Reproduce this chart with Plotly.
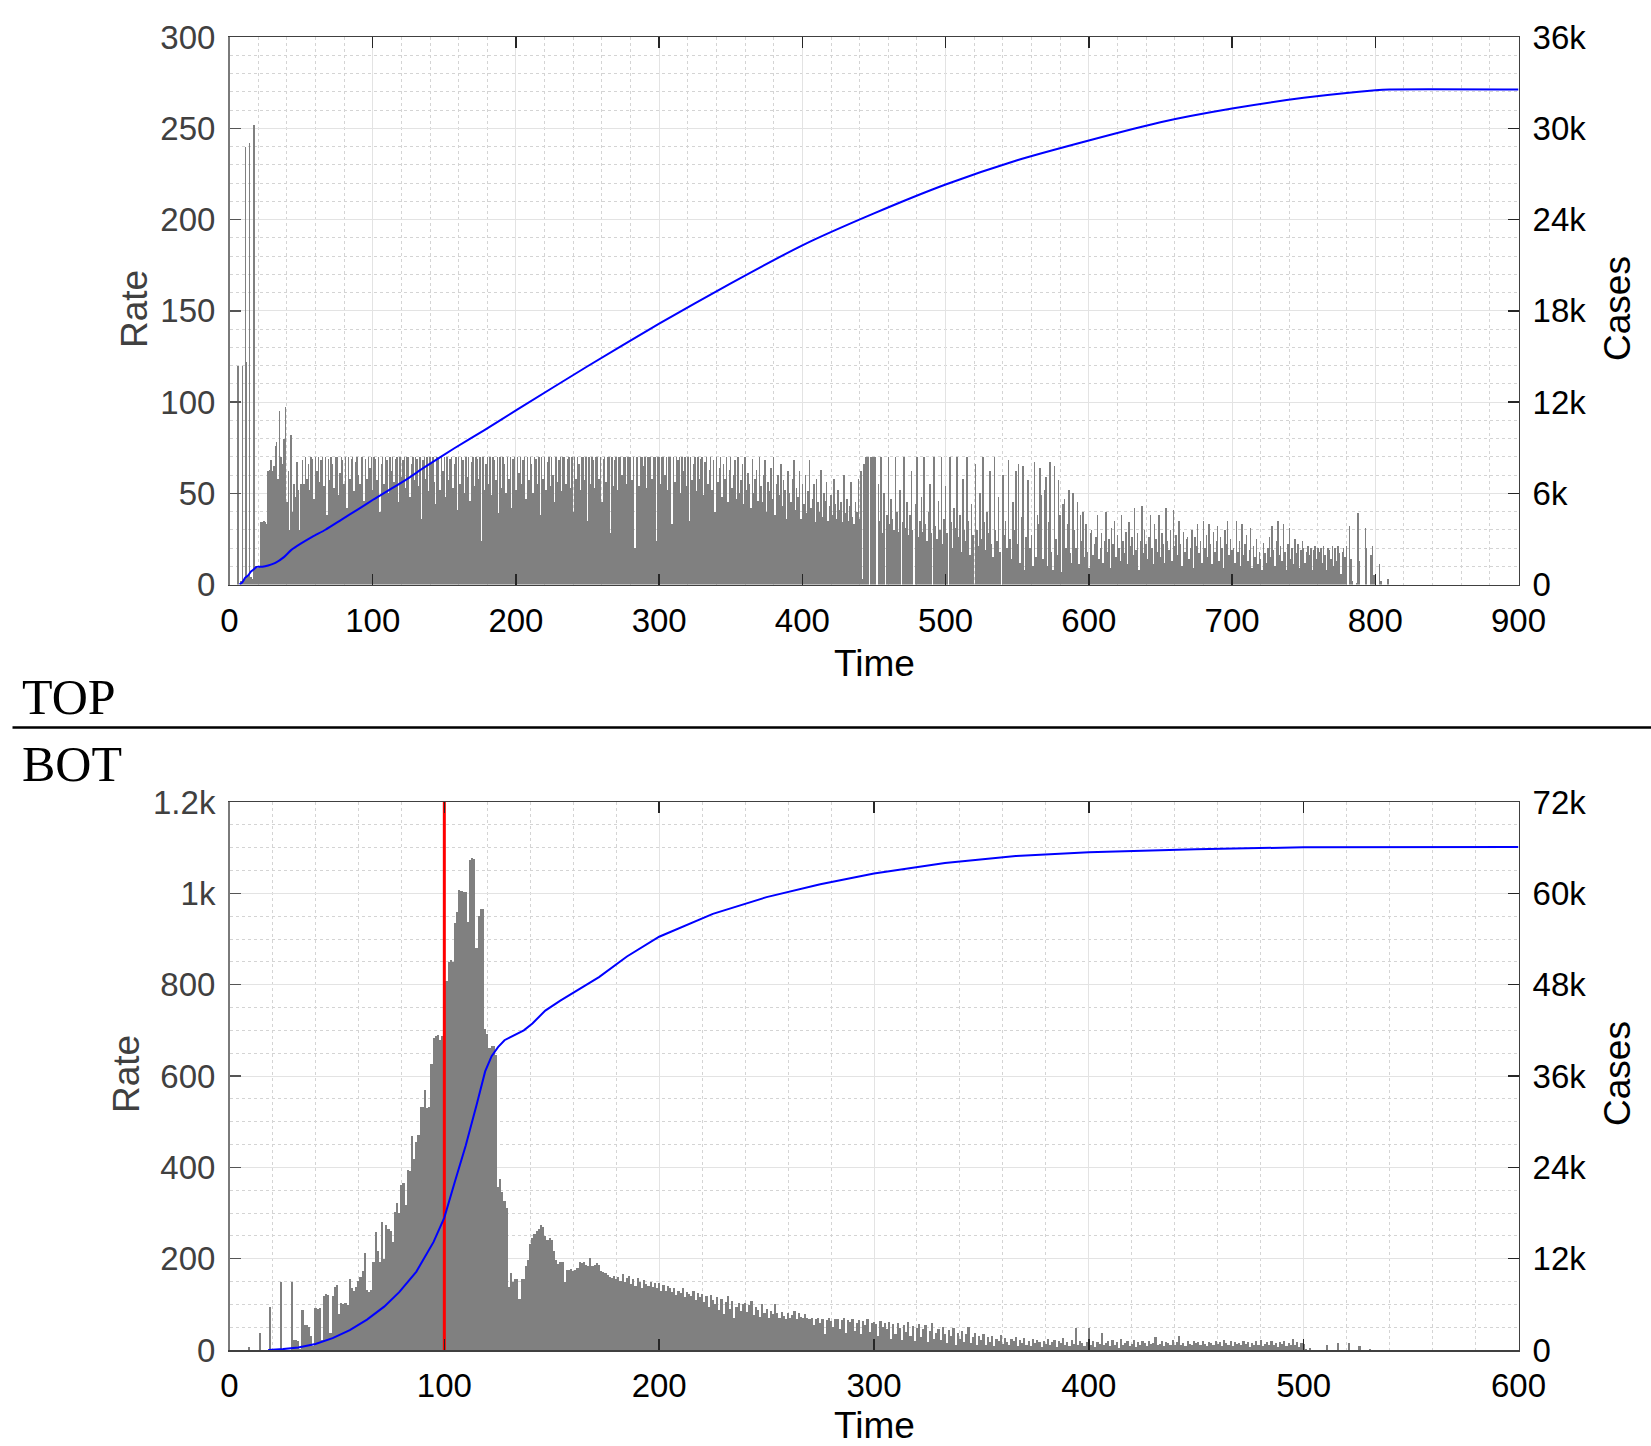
import plotly.graph_objects as go

# ---------------- DATA ----------------
# TOP panel: daily rate (bars), days 0..812
top_rate_early = [0, 0, 0, 0, 0, 0, 120, 0, 2, 120,
                  3, 240, 122, 5, 242, 4, 3, 252, 10, 10,
                  9, 10, 34, 34, 35, 34, 33, 62, 63, 68,
                  62, 65, 76, 78, 58, 95, 70, 66, 80, 97,
                  45, 62, 30, 82, 40, 55, 48, 67, 52, 30,
                  55]
top_rate_plateau = [
    68, 55, 70, 58, 66, 52, 70, 69, 47, 70, 62, 70, 56, 68, 70, 54, 70, 38, 69, 57,
    70, 66, 53, 70, 70, 49, 61, 70, 68, 55, 70, 42, 70, 58, 69, 70, 51, 67, 70, 60,
    55, 70, 70, 46, 69, 58, 70, 64, 70, 52, 70, 69, 57, 70, 40, 66, 70, 55, 70, 68,
    50, 70, 62, 70, 56, 69, 70, 45, 70, 59, 68, 70, 53, 70, 70, 48, 66, 70, 57, 70,
    69, 54, 70, 36, 68, 70, 58, 70, 51, 70, 67, 70, 56, 44, 70, 69, 52, 70, 62, 70,
    48, 70, 57, 69, 70, 53, 66, 70, 41, 70, 55, 70, 68, 50, 70, 59, 70, 46, 67, 70,
    54, 70, 69, 58, 70, 24, 70, 52, 66, 70, 55, 70, 49, 70, 68, 57, 70, 39, 70, 53,
    70, 66, 50, 70, 58, 70, 42, 69, 70, 52, 70, 61, 70, 55, 68, 70, 47, 70, 57, 70,
    66, 50, 70, 69, 55, 70, 38, 70, 58, 70, 52, 67, 70, 54, 70, 60, 45, 70, 56, 68,
    70, 51, 70, 70, 55, 69, 70, 53, 70, 40, 70, 58, 70, 66, 52, 70, 70, 57, 70, 35,
    70, 55, 70, 68, 53, 70, 70, 58, 70, 45, 69, 70, 56, 70, 70, 28, 70, 54, 68, 70,
    52, 70, 70, 60, 70, 70, 55, 70, 70, 70, 57, 70, 20, 70, 70, 54, 70, 70, 65, 70,
    53, 70, 70, 70, 58, 70, 70, 24, 70, 70, 55, 70, 70, 60, 70, 52, 70, 70, 33, 70,
    56, 70, 68, 70, 50, 70, 62, 70, 54, 70, 35, 70, 57, 66, 70, 51, 70, 58, 69, 70,
    49, 67, 70, 55, 63, 70, 52, 68, 40, 70, 56, 64, 70, 48, 66, 58, 70, 45, 63, 70,
    53, 60, 68, 47, 70, 50, 57, 66, 44, 70, 52, 61, 55, 42, 69, 50, 58, 63, 46, 70,
    54, 45, 60, 68, 40, 56, 51, 64, 47, 70, 38, 55, 60, 49, 66, 43, 57, 52, 36, 62,
    50, 45, 58, 68, 41, 53, 48, 62, 36, 55,
    44, 60, 39, 51, 68, 42, 47, 55, 34, 58, 45, 40, 63, 37, 50, 46, 56, 35, 43, 49,
    38, 58, 44, 36, 52, 41, 45, 34, 60, 39, 47, 35, 43, 56, 37, 33, 45, 40, 58, 36,
    62, 3, 66, 70, 70, 70, 0, 70, 70, 70, 70, 0, 55]
top_rate_decline = [
    35, 70, 28, 50, 0, 38, 70, 33, 47, 36, 30, 70, 40, 29, 52, 0, 34, 70, 31, 45,
    27, 38, 62, 30, 0, 44, 70, 26, 35, 48, 29, 70, 33, 24, 40, 55, 28, 0, 70, 32,
    25, 46, 30, 70, 22, 36, 54, 28, 0, 70, 34, 20, 42, 31, 70, 26, 38, 18, 58, 30,
    24, 70, 35, 16, 44, 27, 0, 66, 30, 21, 50, 25, 70, 34, 19, 40, 28, 62, 22, 15,
    70, 30, 24, 48, 18, 0, 60, 27, 35, 20, 68, 25, 14, 45, 30, 62, 22,
    66, 12, 37, 65, 8, 26, 57, 57, 20, 27, 10, 67, 15, 38, 33, 64, 49, 14, 52, 59,
    10, 34, 67, 18, 8, 65, 25, 16, 57, 38, 7, 44, 47, 20, 33, 52, 17, 12, 50, 30,
    20, 45, 11, 38, 24, 40, 15, 33, 18, 9, 28]
top_rate_tail = [
    30, 16, 22, 26, 38, 14, 20, 28, 12, 24, 40, 18, 25, 9, 31, 22, 35, 15, 27, 20,
    13, 38, 24, 17, 29, 11, 34, 21, 26, 16, 42, 19, 28, 8, 24, 43, 17, 30, 22, 14,
    26, 38, 20, 11, 33, 25, 18, 38, 15, 28, 22, 12, 42, 24, 19, 30, 13, 41, 21, 27,
    16, 35, 22, 10, 29, 18, 25, 26, 14, 20, 30, 9, 26, 21, 33, 17, 24, 12, 35, 20,
    27, 15, 33, 22, 11, 29, 18, 24, 32, 13, 26, 20, 9, 30, 22, 35, 16, 25, 19,
    20, 12, 35, 18, 24, 10, 33, 16, 22, 27, 13, 19, 31, 9, 21, 15, 25, 11, 18, 14,
    8, 23, 17, 12, 20, 26, 15, 32, 19, 10, 24, 35, 16, 21, 13, 33, 18, 8, 22, 31,
    14, 20, 11, 25, 17, 22, 9, 19, 24, 20, 12, 18, 21, 16, 20, 8, 19, 21, 14, 20,
    18, 20, 12, 21, 16, 8, 20, 19, 14, 21, 10, 20, 13, 21, 17, 6, 18, 20, 15, 21,
    0, 32, 14, 2, 0, 0, 1, 39, 13, 0, 0, 0, 31, 20, 0, 0, 16, 21, 5, 0,
    0, 0, 11, 2, 0, 0, 0, 0, 3, 0, 0, 0]
top_rate = top_rate_early + top_rate_plateau + top_rate_decline + top_rate_tail
top_days = list(range(len(top_rate)))

# TOP panel: cumulative cases (line, right axis)
top_line_days = [7, 9, 11, 13, 15, 17, 19, 23, 27, 32, 38, 43, 50, 58, 67, 78, 90, 101,
                 113, 125, 136, 157, 178, 200, 250, 300, 350, 400, 450, 500, 550, 600,
                 650, 700, 750, 800, 810, 900]
top_line_cases = [0, 150, 450, 600, 850, 1000, 1160, 1170, 1250, 1420, 1800, 2260, 2700,
                  3150, 3600, 4250, 4960, 5620, 6300, 7000, 7700, 8960, 10150, 11450,
                  14350, 17150, 19800, 22300, 24400, 26300, 27900, 29200, 30400, 31300,
                  32000, 32500, 32550, 32550]

# BOTTOM panel: daily rate (bars), days 0..534
bot_rate_rise = [
    0, 0, 0, 0, 0, 0, 0, 0, 0, 7,
    0, 0, 0, 0, 38, 0, 0, 0, 0, 95,
    0, 0, 0, 0, 150, 0, 0, 0, 0, 150,
    22, 22, 20, 2, 87, 54, 54, 50, 30, 8,
    91, 90, 91, 22, 119, 123, 120, 38, 119, 139,
    143, 79, 103, 100, 103, 98, 156, 135, 130, 138,
    152, 160, 172, 212, 131, 128, 131, 192, 259, 216,
    192, 281, 200, 273, 265, 261, 237, 302, 322, 300,
    362, 366, 318, 395, 392, 468, 419, 456, 470, 533,
    533, 569, 529, 533, 626, 683, 687, 690, 679, 687,
    687, 808, 849, 853, 850, 934, 960, 1007, 1005, 1003,
    1003, 938, 1072, 1078, 1076, 881, 950, 966, 966, 703,
    691, 662, 666, 666, 646, 358, 375, 346, 326, 310]
bot_rate_second = [
    139, 168, 148, 155, 155, 111, 155, 155, 184, 196,
    233, 245, 253, 261, 265, 273, 270, 249, 241, 245,
    241, 216, 196, 188, 192, 192, 148, 176, 176, 178,
    174, 176, 180, 192, 190, 192, 186, 184, 202, 184,
    187, 190, 186, 173, 170, 168, 165, 160, 158, 162,
    155, 160, 152, 167, 150, 158, 162, 145, 155, 140,
    158, 150, 136, 154, 145, 140, 150, 138, 147, 135,
    147, 130, 142, 129, 140, 136, 128, 135, 120, 130,
    125, 136, 115, 128, 122, 118, 129, 110, 124, 116,
    122, 105, 118, 95, 120, 110, 100, 116, 88, 112,
    78, 105, 118, 90, 108, 71, 95, 104, 86, 100,
    104, 84, 98, 107, 76, 95, 88, 72, 100, 82,
    90, 71, 85, 78, 100, 80, 70, 84, 75, 68,
    82, 71, 76, 85, 67, 80, 72, 69, 78, 70,
    67, 71, 55, 68, 70, 60, 67, 35, 66, 70,
    64, 50, 67, 68, 45, 66, 70, 38, 65, 62,
    67, 42, 60, 66, 34, 63, 55, 67, 40, 60]
bot_rate_tail = [
    62, 58, 30, 64, 50, 60, 45, 62, 25, 57,
    35, 60, 48, 22, 55, 40, 62, 30, 52, 20,
    48, 58, 28, 45, 55, 18, 42, 60, 25, 38,
    47, 22, 50, 35, 15, 44, 30, 48, 12, 38,
    25, 42, 18, 34, 50, 15, 28, 38, 10, 30,
    22, 35, 12, 28, 18, 30, 8, 25, 20, 32,
    14, 26, 18, 10, 24, 20, 28, 9, 22, 16,
    26, 12, 20, 8, 24, 15, 22, 18, 6, 20,
    14, 24, 10, 18, 22, 7, 20, 16, 26, 12,
    18, 9, 22, 14, 49, 10, 20, 15, 8, 18,
    49, 12, 20, 6, 18, 14, 38, 10, 16, 20,
    8, 22, 12, 18, 5, 24, 10, 16, 20, 9,
    14, 22, 6, 18, 12, 20, 15, 8, 19, 14,
    16, 28, 10, 14, 20, 8, 18, 15, 12, 22,
    10, 18, 30, 12, 16, 8, 20, 14, 10, 19,
    15, 18, 11, 20, 14, 9, 18, 16, 12, 20,
    14, 18, 9, 22, 15, 12, 20, 8, 18, 14,
    16, 10, 20, 14, 18, 6, 16, 12, 20, 10,
    22, 8, 14, 18, 12, 20, 10, 16, 6, 18,
    14, 20, 8, 16, 12, 24, 10, 18, 6, 16,
    14, 2, 0, 5, 0, 0, 0, 1, 0, 0,
    0, 10, 0, 0, 0, 0, 16, 0, 0, 0,
    0, 16, 0, 0, 0, 0, 8, 0, 0, 0,
    0, 2, 0, 0, 0]
bot_rate = bot_rate_rise + bot_rate_second + bot_rate_tail
bot_days = list(range(len(bot_rate)))

bot_line_days = [18, 25, 32, 40, 48, 56, 64, 72, 79, 87, 95, 100, 105, 110, 115, 119,
                 122, 125, 128, 132, 137, 141, 147, 154, 160, 172, 185, 200, 225, 250,
                 275, 300, 333, 366, 400, 450, 500, 600]
bot_line_cases = [0, 120, 340, 800, 1560, 2600, 4000, 5700, 7600, 10300, 14200, 17400,
                  22200, 26900, 32200, 36600, 38600, 39800, 40700, 41300, 42000, 42900,
                  44600, 45900, 46900, 49000, 51700, 54300, 57300, 59500, 61200, 62600,
                  64000, 64900, 65400, 65800, 66050, 66100]

marker_day = 100

top_x_ticks = [0, 100, 200, 300, 400, 500, 600, 700, 800, 900]
top_rate_ticks = [0, 50, 100, 150, 200, 250, 300]
top_case_ticks = [0, 6000, 12000, 18000, 24000, 30000, 36000]
top_case_labels = ["0", "6k", "12k", "18k", "24k", "30k", "36k"]
bot_x_ticks = [0, 100, 200, 300, 400, 500, 600]
bot_rate_ticks = [0, 200, 400, 600, 800, 1000, 1200]
bot_rate_labels = ["0", "200", "400", "600", "800", "1k", "1.2k"]
bot_case_ticks = [0, 12000, 24000, 36000, 48000, 60000, 72000]
bot_case_labels = ["0", "12k", "24k", "36k", "48k", "60k", "72k"]

# ---------------- LAYOUT ----------------
W, H = 1651, 1446
def px(x):
    return x / W
def py(y):
    return 1 - y / H

X0, X1 = 229.5, 1518.5
TOP_T, TOP_B = 37.0, 584.5
BOT_T, BOT_B = 802.0, 1350.0

SANS = "Liberation Sans, Arial, sans-serif"
SERIF = "Liberation Serif, Times New Roman, serif"
TICK_FONT = 33
TITLE_FONT = 37
GRID = "#e3e3e3"
MINOR_GRID = "#d4d4d4"
BAR = "#808080"

fig = go.Figure()
fig.add_trace(go.Bar(x=top_days, y=top_rate, width=1, marker=dict(color=BAR, line=dict(width=0)),
                     xaxis="x", yaxis="y", hoverinfo="skip"))
fig.add_trace(go.Scatter(x=top_line_days, y=top_line_cases, mode="lines",
                         line=dict(color="#0000ff", width=2, shape="spline", smoothing=0.6),
                         xaxis="x", yaxis="y2", hoverinfo="skip"))
fig.add_trace(go.Bar(x=bot_days, y=bot_rate, width=1, marker=dict(color=BAR, line=dict(width=0)),
                     xaxis="x2", yaxis="y3", hoverinfo="skip"))
fig.add_trace(go.Scatter(x=[marker_day, marker_day], y=[0, bot_rate_ticks[-1]], mode="lines",
                         line=dict(color="#ff0000", width=3), xaxis="x2", yaxis="y3", hoverinfo="skip"))
fig.add_trace(go.Scatter(x=bot_line_days, y=bot_line_cases, mode="lines",
                         line=dict(color="#0000ff", width=2), xaxis="x2", yaxis="y4", hoverinfo="skip"))

def xaxis(domain, anchor, ticks, rng):
    return dict(domain=domain, anchor=anchor, range=rng, tickvals=ticks, automargin=False,
                ticks="inside", ticklen=11, tickwidth=1.5, tickcolor="#262626",
                showline=True, linecolor="#404040", linewidth=1.5, mirror="ticks",
                showgrid=True, gridcolor=GRID, gridwidth=1,
                minor=dict(dtick=20, showgrid=True, gridcolor=MINOR_GRID, griddash="dot", gridwidth=1, ticks=""),
                tickfont=dict(family=SANS, size=TICK_FONT, color="#000000"),
                ticklabelstandoff=6, zeroline=False, fixedrange=True)

def yleft(domain, anchor, rng, ticks, labels, minor):
    return dict(domain=domain, anchor=anchor, range=rng, tickvals=ticks, ticktext=labels,
                automargin=False,
                ticks="inside", ticklen=11, tickwidth=1.5, tickcolor="#555555",
                showline=True, linecolor="#7a7a7a", linewidth=1.5,
                showgrid=True, gridcolor=GRID, gridwidth=1,
                minor=dict(dtick=minor, showgrid=True, gridcolor=MINOR_GRID, griddash="dot", gridwidth=1, ticks=""),
                tickfont=dict(family=SANS, size=TICK_FONT, color="#404040"),
                ticklabelstandoff=6, zeroline=False, fixedrange=True)

def yright(anchor, overlay, rng, ticks, labels):
    return dict(anchor=anchor, overlaying=overlay, side="right", range=rng, tickvals=ticks,
                ticktext=labels, automargin=False,
                ticks="inside", ticklen=11, tickwidth=1.5, tickcolor="#262626",
                showline=True, linecolor="#404040", linewidth=1.5, showgrid=False,
                tickfont=dict(family=SANS, size=TICK_FONT, color="#000000"),
                ticklabelstandoff=6, zeroline=False, fixedrange=True)

fig.update_layout(
    width=W, height=H, autosize=False, margin=dict(l=0, r=0, t=0, b=0, pad=0),
    paper_bgcolor="white", plot_bgcolor="white", showlegend=False, bargap=0,
    xaxis=xaxis([px(X0), px(X1)], "y", top_x_ticks, [0, 900]),
    yaxis=yleft([py(TOP_B), py(TOP_T)], "x", [0, 300], top_rate_ticks,
                [str(v) for v in top_rate_ticks], 10),
    yaxis2=yright("x", "y", [0, 36000], top_case_ticks, top_case_labels),
    xaxis2=xaxis([px(X0), px(X1)], "y3", bot_x_ticks, [0, 600]),
    yaxis3=yleft([py(BOT_B), py(BOT_T)], "x2", [0, 1200], bot_rate_ticks, bot_rate_labels, 50),
    yaxis4=yright("x2", "y3", [0, 72000], bot_case_ticks, bot_case_labels),
)

def title(text, x, y, angle=0, color="#000000", size=TITLE_FONT, family=SANS, xanchor="center"):
    fig.add_annotation(text=text, x=px(x), y=py(y), xref="paper", yref="paper", showarrow=False,
                       textangle=angle, xanchor=xanchor, yanchor="middle", borderpad=0,
                       font=dict(family=family, size=size, color=color))

title("Rate", 134, 309, -90, "#404040")
title("Cases", 1617, 309, -90)
title("Time", 874, 664)
title("Rate", 126, 1074, -90, "#404040")
title("Cases", 1617, 1074, -90)
title("Time", 874, 1425)
title("TOP", 21, 697, family=SERIF, size=50, xanchor="left")
title("BOT", 21, 764, family=SERIF, size=50, xanchor="left")

fig.add_shape(type="line", xref="paper", yref="paper", x0=px(12.5), x1=1, y0=py(727.5), y1=py(727.5),
              line=dict(color="#000000", width=2.5))

fig.write_html(
    "out.html", config={"staticPlot": True, "responsive": False},
    post_script=("document.body.style.margin='0';document.body.style.padding='0';"
                 "document.body.style.overflow='hidden';"
                 "var gd=document.getElementById('{plot_id}');"
                 "gd.style.width='1651px';gd.style.height='1446px';"
                 "Plotly.relayout(gd,{width:1651,height:1446});"))
